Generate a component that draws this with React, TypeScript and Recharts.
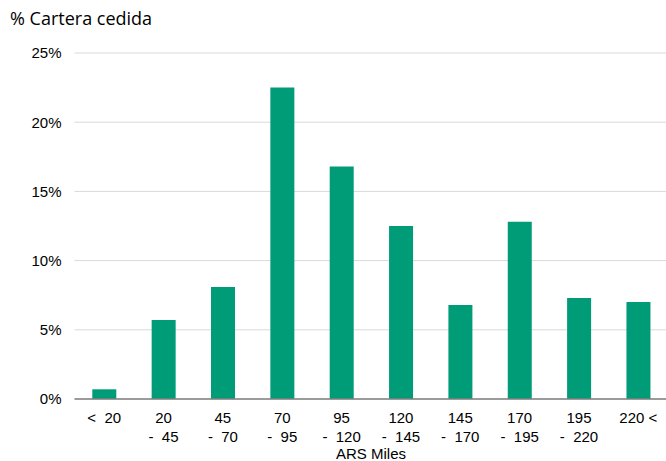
import React from "react"
import { Bar, BarChart, CartesianGrid, XAxis, YAxis } from "recharts"

// tramos de ingreso (ARS miles), cada uno en una o dos lineas
const tramos = ["< 20", "20 - 45", "45 - 70", "70 - 95", "95 - 120", "120 - 145", "145 - 170", "170 - 195", "195 - 220", "220 <"]
const lineasTramo = [["<  20"], ["20", "-  45"], ["45", "-  70"], ["70", "-  95"], ["95", "-  120"], ["120", "-  145"], ["145", "-  170"], ["170", "-  195"], ["195", "-  220"], ["220 <"]]
const carteraCedida = [0.7, 5.7, 8.1, 22.5, 16.8, 12.5, 6.8, 12.8, 7.3, 7.0]
const yTicks = [0, 5, 10, 15, 20, 25]

const data = tramos.map((t, i) => ({ tramo: t, valor: carteraCedida[i] }))

const FONT = "'Liberation Sans', Arial, sans-serif"

const TramoTick = (props: any) => {
  const { x, y, index } = props
  const lineas = lineasTramo[index] || []
  return (
    <g transform={`translate(${x},${y})`}>
      {lineas.map((l, i) => (
        <text
          key={i}
          x={0}
          y={i * 19}
          dy="0.71em"
          textAnchor="middle"
          fill="#000"
          fontSize={15}
          fontFamily={FONT}
          style={{ whiteSpace: "pre" }}
        >
          {l}
        </text>
      ))}
    </g>
  )
}

export default function App() {
  return (
    <div style={{ position: "fixed", left: 0, top: 0, width: 666, height: 461, overflow: "hidden", background: "#fff" }}>
      <div
        style={{
          position: "absolute",
          left: 10,
          top: 6,
          fontFamily: "'Open Sans', sans-serif",
          fontSize: 18,
          color: "#000",
          whiteSpace: "nowrap",
        }}
      >
        % Cartera cedida
      </div>
      <BarChart
        width={672}
        height={461}
        data={data}
        margin={{ top: 53, right: 4, left: 0, bottom: 0 }}
        barCategoryGap="30%"
      >
        <CartesianGrid vertical={false} stroke="#d9d9d9" />
        <XAxis
          dataKey="tramo"
          height={62}
          interval={0}
          tickLine={false}
          axisLine={{ stroke: "#808080", strokeWidth: 1.5 }}
          tickSize={0}
          tickMargin={13}
          tick={<TramoTick />}
        />
        <YAxis
          width={74.5}
          domain={[0, 25]}
          ticks={yTicks}
          tickFormatter={(v) => `${v}%`}
          axisLine={false}
          tickLine={false}
          tickSize={0}
          tickMargin={13}
          tick={{ fill: "#000", fontSize: 15, fontFamily: FONT }}
        />
        <Bar dataKey="valor" fill="#009b77" isAnimationActive={false} />
      </BarChart>
      <div
        style={{
          position: "absolute",
          left: 0,
          width: 742,
          top: 445,
          textAlign: "center",
          fontFamily: FONT,
          fontSize: 15,
          color: "#000",
        }}
      >
        ARS Miles
      </div>
    </div>
  )
}
